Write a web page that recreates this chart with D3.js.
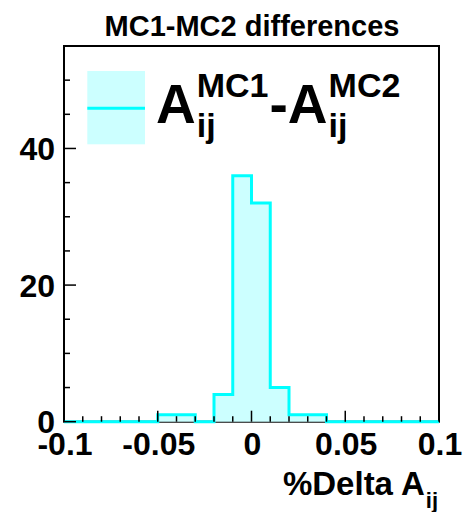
<!DOCTYPE html>
<html>
<head>
<meta charset="utf-8">
<script src="https://cdn.jsdelivr.net/npm/d3@7"></script>
<style>
  html, body { margin: 0; padding: 0; background: #fff; }
  svg { display: block; }
  text { font-family: "Liberation Sans", Arial, Helvetica, sans-serif; font-weight: bold; fill: #000; }
</style>
</head>
<body>
<svg id="chart" width="463" height="512"></svg>
<script>
// Histogram of MC1-MC2 differences (%Delta A_ij), 20 bins of width 0.01
const binEdges = [-0.1, -0.09, -0.08, -0.07, -0.06, -0.05, -0.04, -0.03, -0.02, -0.01, 0,
                  0.01, 0.02, 0.03, 0.04, 0.05, 0.06, 0.07, 0.08, 0.09, 0.1];
const binCounts = [0, 0, 0, 0, 0, 1, 1, 0, 4, 36, 32, 5, 1, 1, 0, 0, 0, 0, 0, 0];

const xDomain = [-0.1, 0.1];
const yDomain = [0, 55];
const xMajorTicks = [-0.1, -0.05, 0, 0.05, 0.1];
const xTickLabels = ["-0.1", "-0.05", "0", "0.05", "0.1"];
const xMinorTicks = [-0.09, -0.08, -0.07, -0.06, -0.04, -0.03, -0.02, -0.01,
                     0.01, 0.02, 0.03, 0.04, 0.06, 0.07, 0.08, 0.09];
const yMajorTicks = [0, 20, 40];
const yTickLabels = ["0", "20", "40"];
const yMinorTicks = [5, 10, 15, 25, 30, 35, 45, 50];

const titleText = "MC1-MC2 differences";

const lineColor = "#00ffff";
const fillColor = "#ccffff";

const svg = d3.select("#chart");

const frame = { left: 64, right: 439, top: 46, bottom: 421.7 };

const x = d3.scaleLinear().domain(xDomain).range([frame.left, frame.right]);
const y = d3.scaleLinear().domain(yDomain).range([frame.bottom, frame.top]);

// Title
svg.append("text")
  .attr("x", 252)
  .attr("y", 36)
  .attr("text-anchor", "middle")
  .style("font-size", "29px")
  .text(titleText);

// Frame box
svg.append("rect")
  .attr("x", frame.left)
  .attr("y", frame.top)
  .attr("width", frame.right - frame.left)
  .attr("height", frame.bottom - frame.top)
  .attr("fill", "none")
  .attr("stroke", "#000")
  .attr("stroke-width", 2);

// Histogram: filled step area and outline
const stepPts = [];
binCounts.forEach((c, i) => {
  stepPts.push([binEdges[i], c]);
  stepPts.push([binEdges[i + 1], c]);
});

const area = d3.area()
  .x(d => x(d[0]))
  .y0(y(0))
  .y1(d => y(d[1]));
const line = d3.line()
  .x(d => x(d[0]))
  .y(d => y(d[1]));

svg.append("path")
  .datum(stepPts)
  .attr("d", area)
  .attr("fill", fillColor)
  .attr("stroke", "none");

svg.append("path")
  .datum(stepPts)
  .attr("d", line)
  .attr("fill", "none")
  .attr("stroke", lineColor)
  .attr("stroke-width", 3)
  .attr("stroke-linejoin", "miter");

// Axis ticks (drawn inward from the frame)
const tickG = svg.append("g").attr("stroke", "#000").attr("stroke-width", 1.5);
xMajorTicks.forEach(v => {
  tickG.append("line").attr("x1", x(v)).attr("x2", x(v))
    .attr("y1", frame.bottom).attr("y2", frame.bottom - 11);
});
xMinorTicks.forEach(v => {
  tickG.append("line").attr("x1", x(v)).attr("x2", x(v))
    .attr("y1", frame.bottom).attr("y2", frame.bottom - 5.5);
});
yMajorTicks.forEach(v => {
  tickG.append("line").attr("x1", frame.left).attr("x2", frame.left + 12)
    .attr("y1", y(v)).attr("y2", y(v));
});
yMinorTicks.forEach(v => {
  tickG.append("line").attr("x1", frame.left).attr("x2", frame.left + 6)
    .attr("y1", y(v)).attr("y2", y(v));
});

// Tick labels
xMajorTicks.forEach((v, i) => {
  svg.append("text")
    .attr("x", x(v) + 1)
    .attr("y", 455)
    .attr("text-anchor", "middle")
    .style("font-size", "32px")
    .text(xTickLabels[i]);
});
yMajorTicks.forEach((v, i) => {
  svg.append("text")
    .attr("x", 55)
    .attr("y", y(v) + 11.5)
    .attr("text-anchor", "end")
    .style("font-size", "32px")
    .text(yTickLabels[i]);
});

// X axis title: %Delta A_ij, right-aligned to the frame
const axTitle = svg.append("g");
const axMain = axTitle.append("text")
  .attr("x", 0).attr("y", 495)
  .style("font-size", "33px")
  .text("%Delta A");
const mainW = axMain.node().getComputedTextLength();
const axSub = axTitle.append("text")
  .attr("x", mainW + 1).attr("y", 508)
  .style("font-size", "22px")
  .text("ij");
const subW = axSub.node().getComputedTextLength();
axTitle.attr("transform", `translate(${frame.right - 1 - (mainW + 1 + subW)},0)`);

// Legend
const legend = svg.append("g");
legend.append("rect")
  .attr("x", 87.3).attr("y", 71)
  .attr("width", 57.7).attr("height", 73.3)
  .attr("fill", fillColor);
legend.append("line")
  .attr("x1", 87.3).attr("x2", 145)
  .attr("y1", 108.3).attr("y2", 108.3)
  .attr("stroke", lineColor).attr("stroke-width", 3);

function scriptedA(x0, supText, subText) {
  const a = legend.append("text")
    .attr("x", x0).attr("y", 122.7)
    .style("font-size", "55px")
    .text("A");
  const aw = a.node().getComputedTextLength();
  const sup = legend.append("text")
    .attr("x", x0 + aw + 1).attr("y", 97)
    .style("font-size", "34px")
    .text(supText);
  const sub = legend.append("text")
    .attr("x", x0 + aw + 1).attr("y", 137)
    .style("font-size", "34px")
    .text(subText);
  return x0 + aw + 1 + Math.max(sup.node().getComputedTextLength(),
                                sub.node().getComputedTextLength());
}

const end1 = scriptedA(156, "MC1", "ij");
const dash = legend.append("text")
  .attr("x", end1 + 1).attr("y", 122.7)
  .style("font-size", "55px")
  .text("-");
const dashW = dash.node().getComputedTextLength();
scriptedA(end1 + 1 + dashW, "MC2", "ij");
</script>
</body>
</html>
